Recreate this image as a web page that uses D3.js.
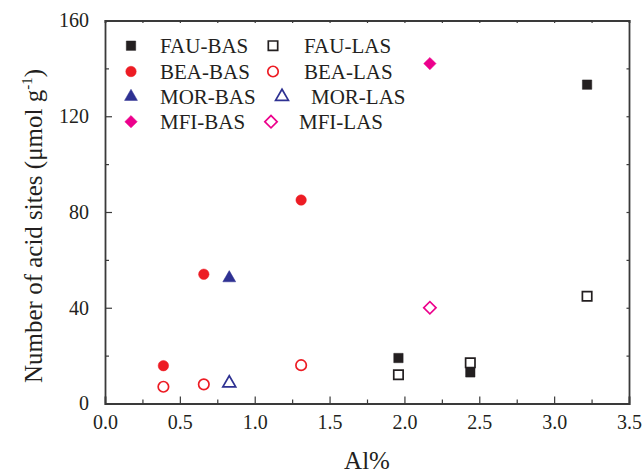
<!DOCTYPE html>
<html>
  <head>
    <meta charset="UTF-8">
    <title>Acid sites vs Al%</title>
    <script src="https://d3js.org/d3.v7.min.js"></script>
    <style>
      body { margin: 0; background: #fff; }
      text { font-family: "Liberation Serif", "Times New Roman", serif; fill: #231f20; }
      .tick text { font-size: 20px; font-family: "Liberation Serif", serif; }
      .axis-label { font-size: 25px; }
      .legend text { font-size: 21px; }
    </style>
  </head>
  <body>
    <div id="chart"></div>
<script>
  // values (Al% on x, umol/g on y)
  const fauX = [1.96, 2.44, 3.22];
  const fauBas = [19, 13, 133.2];
  const fauLas = [12, 17, 44.8];
  const beaX = [0.39, 0.66, 1.31];
  const beaBas = [15.8, 54, 85];
  const beaLas = [7, 8, 16];
  const morX = [0.83];
  const morBas = [52.4];
  const morLas = [8.5];
  const mfiX = [2.17];
  const mfiBas = [142];
  const mfiLas = [40];

  const seriesNames = ["FAU-BAS", "FAU-LAS", "BEA-BAS", "BEA-LAS", "MOR-BAS", "MOR-LAS", "MFI-BAS", "MFI-LAS"];
  const xTicks = [0, 0.5, 1.0, 1.5, 2.0, 2.5, 3.0, 3.5];
  const yTicks = [0, 40, 80, 120, 160];

  const colors = { FAU: "#231f20", BEA: "#ed1c24", MOR: "#2e3192", MFI: "#ec008c" };

  const series = [
    { name: "FAU-BAS", xs: fauX, ys: fauBas, color: colors.FAU, shape: "square", fill: true },
    { name: "FAU-LAS", xs: fauX, ys: fauLas, color: colors.FAU, shape: "square", fill: false },
    { name: "BEA-BAS", xs: beaX, ys: beaBas, color: colors.BEA, shape: "circle", fill: true },
    { name: "BEA-LAS", xs: beaX, ys: beaLas, color: colors.BEA, shape: "circle", fill: false },
    { name: "MOR-BAS", xs: morX, ys: morBas, color: colors.MOR, shape: "triangle", fill: true },
    { name: "MOR-LAS", xs: morX, ys: morLas, color: colors.MOR, shape: "triangle", fill: false },
    { name: "MFI-BAS", xs: mfiX, ys: mfiBas, color: colors.MFI, shape: "diamond", fill: true },
    { name: "MFI-LAS", xs: mfiX, ys: mfiLas, color: colors.MFI, shape: "diamond", fill: false }
  ];

  var width = 642, height = 476;
  var margin = {top: 20.5, right: 13, bottom: 72.5, left: 105};
  var w = width - margin.left - margin.right,
      h = height - margin.top - margin.bottom;

  var svg = d3.select("#chart").append("svg")
      .attr("width", width)
      .attr("height", height);
  var g = svg.append("g")
      .attr("transform", "translate(" + margin.left + "," + margin.top + ")");

  var x = d3.scaleLinear().domain([0, 3.5]).range([0, w]);
  var y = d3.scaleLinear().domain([0, 160]).range([h, 0]);

  var axisColor = "#3a3a3a";
  function styleAxis(sel) {
    sel.attr("font-family", null).attr("font-size", null);
    sel.select(".domain").attr("stroke", axisColor).attr("stroke-width", 1.8);
    sel.selectAll(".tick line").attr("stroke", axisColor).attr("stroke-width", 1.2);
  }

  // minor ticks (between labelled ones)
  var xMinor = d3.range(0.25, 3.5, 0.5);
  var yMinor = d3.range(20, 160, 40);

  // bottom axis: inward ticks
  var bx = g.append("g").attr("transform", "translate(0," + h + ")")
      .call(d3.axisBottom(x).tickValues(xTicks).tickSize(-7).tickPadding(11).tickFormat(d3.format(".1f")));
  bx.call(styleAxis);
  g.append("g").attr("transform", "translate(0," + h + ")")
      .call(d3.axisBottom(x).tickValues(xMinor).tickSize(-4).tickFormat(""))
      .call(styleAxis).select(".domain").remove();

  // left axis
  var ly = g.append("g")
      .call(d3.axisLeft(y).tickValues(yTicks).tickSize(-7).tickPadding(16));
  ly.call(styleAxis);
  g.append("g")
      .call(d3.axisLeft(y).tickValues(yMinor).tickSize(-4).tickFormat(""))
      .call(styleAxis).select(".domain").remove();

  // top and right frame with tiny ticks
  g.append("g")
      .call(d3.axisTop(x).tickValues(xTicks.concat(xMinor)).tickSize(-2.5).tickFormat(""))
      .call(styleAxis);
  g.append("g").attr("transform", "translate(" + w + ",0)")
      .call(d3.axisRight(y).tickValues(yTicks.concat(yMinor)).tickSize(-2.5).tickFormat(""))
      .call(styleAxis);

  g.selectAll(".tick text").attr("fill", "#231f20");

  // axis titles
  svg.append("text")
      .attr("class", "axis-label")
      .attr("x", margin.left + x(1.75))
      .attr("y", 469)
      .attr("text-anchor", "middle")
      .text("Al%");

  var yl = svg.append("text")
      .attr("class", "axis-label")
      .attr("transform", "translate(42,226) rotate(-90)")
      .attr("text-anchor", "middle");
  yl.append("tspan").text("Number of acid sites (\u03bcmol g");
  yl.append("tspan").attr("dy", -10).style("font-size", "15px").text("-1");
  yl.append("tspan").attr("dy", 10).text(")");

  // marker path generator
  function markerPath(shape) {
    if (shape === "square") return d3.symbol(d3.symbolSquare, 88)();
    if (shape === "circle") return d3.symbol(d3.symbolCircle, 86)();
    if (shape === "triangle") return d3.symbol(d3.symbolTriangle, 72)();
    return d3.symbol(d3.symbolSquare, 76)();
  }

  var plot = g.append("g");
  series.forEach(function(s) {
    var pts = s.xs.map(function(v, i) { return [v, s.ys[i]]; });
    plot.selectAll(null).data(pts).enter()
      .append("path")
        .attr("d", markerPath(s.shape))
        .attr("transform", function(d) {
          var t = "translate(" + x(d[0]) + "," + y(d[1]) + ")";
          return s.shape === "diamond" ? t + " rotate(45)" : t;
        })
        .attr("fill", s.fill ? s.color : "#fff")
        .attr("stroke", s.color)
        .attr("stroke-width", s.fill ? 0.5 : 1.7);
  });

  // legend, two columns (the original has slightly uneven spacing in column 2)
  var legend = svg.append("g").attr("class", "legend");
  var rowY = [45.7, 71.5, 96.7, 121.7];
  var col2Symbol = [273, 273, 282, 271];
  var col2Text = [304, 304, 311, 299];
  series.forEach(function(s, i) {
    var col = i % 2, row = Math.floor(i / 2);
    var sx = col === 0 ? 131 : col2Symbol[row];
    var tx = col === 0 ? 160 : col2Text[row];
    var item = legend.append("g").attr("transform", "translate(0," + rowY[row] + ")");
    item.append("path")
        .attr("d", markerPath(s.shape))
        .attr("transform", "translate(" + sx + ",0)" + (s.shape === "diamond" ? " rotate(45)" : ""))
        .attr("fill", s.fill ? s.color : "#fff")
        .attr("stroke", s.color)
        .attr("stroke-width", s.fill ? 0.5 : 1.7);
    item.append("text")
        .attr("x", tx)
        .attr("y", 7)
        .text(seriesNames[i]);
  });
</script>
  </body>
</html>
